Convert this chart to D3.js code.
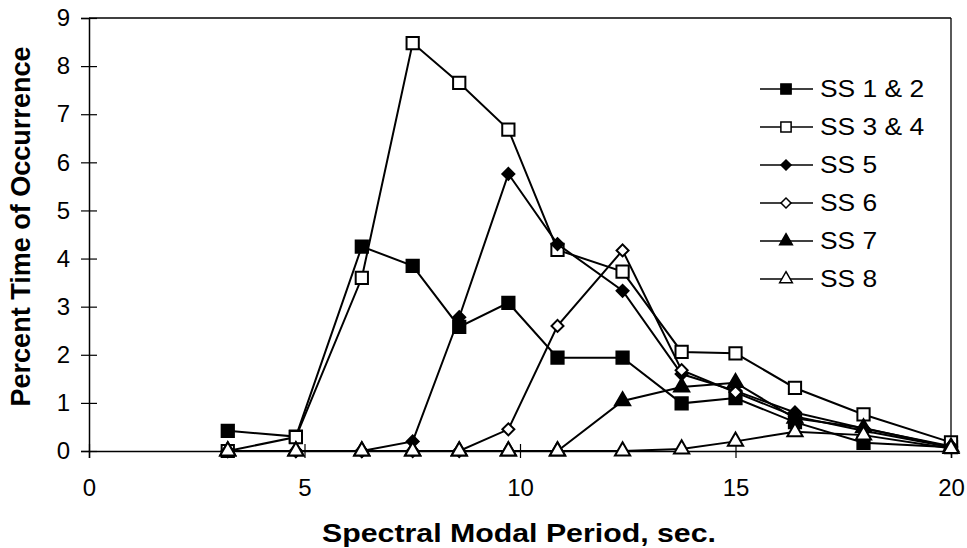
<!DOCTYPE html>
<html>
<head>
<meta charset="utf-8">
<script src="https://cdn.jsdelivr.net/npm/d3@7"></script>
<style>
  html, body { margin: 0; padding: 0; background: #fff; }
  svg { display: block; font-family: "Liberation Sans", Arial, sans-serif; }
</style>
</head>
<body>
<svg id="chart" width="967" height="548"></svg>
<script>
// ---- data ----
const periods = [3.22, 4.8, 6.33, 7.51, 8.59, 9.73, 10.87, 12.38, 13.75, 15.0, 16.38, 17.97, 20.0];
const seriesNames = ["SS 1 & 2", "SS 3 & 4", "SS 5", "SS 6", "SS 7", "SS 8"];
const ss12 = [0.42, 0.3, 4.25, 3.85, 2.58, 3.08, 1.94, 1.94, 0.99, 1.1, 0.6, 0.17, 0.08];
const ss34 = [0, 0.29, 3.6, 8.48, 7.65, 6.68, 4.18, 3.73, 2.06, 2.03, 1.31, 0.76, 0.18];
const ss5  = [0, 0, 0, 0.2, 2.78, 5.76, 4.3, 3.33, 1.6, 1.25, 0.8, 0.47, 0.1];
const ss6  = [0, 0, 0, 0, 0, 0.45, 2.6, 4.17, 1.68, 1.22, 0.72, 0.42, 0.08];
const ss7  = [0, 0, 0, 0, 0, 0, 0, 1.04, 1.33, 1.42, 0.68, 0.48, 0.08];
const ss8  = [0, 0, 0, 0, 0, 0, 0, 0, 0.04, 0.2, 0.4, 0.33, 0.05];
const xTicks = [0, 5, 10, 15, 20];
const yTicks = [0, 1, 2, 3, 4, 5, 6, 7, 8, 9];
const xTitle = "Spectral Modal Period, sec.";
const yTitle = "Percent Time of Occurrence";

const seriesValues = [ss12, ss34, ss5, ss6, ss7, ss8];
const markerDefs = [
  { shape: d3.symbolSquare, fill: "#000", size: 150, rot: 0 },
  { shape: d3.symbolSquare, fill: "#fff", size: 150, rot: 0 },
  { shape: d3.symbolSquare, fill: "#000", size: 72, rot: 45 },
  { shape: d3.symbolSquare, fill: "#fff", size: 72, rot: 45 },
  { shape: d3.symbolTriangle, fill: "#000", size: 100, rot: 0 },
  { shape: d3.symbolTriangle, fill: "#fff", size: 100, rot: 0 }
];

// ---- layout ----
const svg = d3.select("#chart");
const pLeft = 89, pRight = 951, pTop = 18, pBottom = 451;
const x = d3.scaleLinear().domain([0, 20]).range([pLeft, pRight]);
const y = d3.scaleLinear().domain([0, 9]).range([pBottom, pTop]);

// plot frame (top and right)
svg.append("line").attr("x1", pLeft).attr("x2", pRight).attr("y1", pTop).attr("y2", pTop)
  .attr("stroke", "#000").attr("stroke-width", 1.3);
svg.append("line").attr("x1", pRight).attr("x2", pRight).attr("y1", pTop).attr("y2", pBottom)
  .attr("stroke", "#000").attr("stroke-width", 1.3);

// axes
const yAxis = svg.append("g").attr("transform", `translate(${pLeft},0)`)
  .call(d3.axisLeft(y).tickValues(yTicks).tickSize(8).tickPadding(12).tickFormat(d3.format("d")));
yAxis.selectAll(".tick line").attr("x1", -8).attr("x2", 8);
yAxis.selectAll(".tick text").attr("x", -19).attr("font-size", 24).attr("fill", "#000")
  .attr("font-family", '"Liberation Sans", Arial, sans-serif');

const xAxis = svg.append("g").attr("transform", `translate(0,${pBottom})`)
  .call(d3.axisBottom(x).tickValues(xTicks).tickSize(7).tickPadding(21).tickFormat(d3.format("d")));
xAxis.selectAll(".tick line").attr("y1", -7).attr("y2", 7);
xAxis.selectAll(".tick text").attr("font-size", 24).attr("fill", "#000")
  .attr("font-family", '"Liberation Sans", Arial, sans-serif');
svg.selectAll(".domain").attr("stroke", "#000").attr("stroke-width", 1.5);
svg.selectAll(".tick line").attr("stroke", "#000").attr("stroke-width", 1.2);

// axis titles
svg.append("text").attr("x", (pLeft + pRight) / 2 - 1).attr("y", 542)
  .attr("text-anchor", "middle").attr("font-weight", "bold").attr("font-size", 25)
  .attr("textLength", 394).attr("lengthAdjust", "spacingAndGlyphs")
  .text(xTitle);
svg.append("text").attr("transform", `translate(30,${(pTop + pBottom) / 2 - 8}) rotate(-90)`)
  .attr("text-anchor", "middle").attr("font-weight", "bold").attr("font-size", 27)
  .attr("textLength", 360).attr("lengthAdjust", "spacingAndGlyphs")
  .text(yTitle);

// series
const line = d3.line().x((d, i) => x(periods[i])).y(d => y(d));
seriesValues.forEach((vals, s) => {
  const g = svg.append("g");
  g.append("path").datum(vals).attr("d", line)
    .attr("fill", "none").attr("stroke", "#000").attr("stroke-width", 2);
  const m = markerDefs[s];
  g.selectAll("path.m").data(vals).enter().append("path").attr("class", "m")
    .attr("d", d3.symbol().type(m.shape).size(m.size))
    .attr("transform", (d, i) => `translate(${x(periods[i])},${y(d)}) rotate(${m.rot})`)
    .attr("fill", m.fill).attr("stroke", "#000").attr("stroke-width", 2);
});

// legend
const leg = svg.append("g");
seriesNames.forEach((name, i) => {
  const cy = 89 + i * 38;
  const m = markerDefs[i];
  leg.append("line").attr("x1", 760).attr("x2", 813).attr("y1", cy).attr("y2", cy)
    .attr("stroke", "#000").attr("stroke-width", 1.5);
  leg.append("path").attr("d", d3.symbol().type(m.shape).size(m.size * 0.7))
    .attr("transform", `translate(786,${cy}) rotate(${m.rot})`)
    .attr("fill", m.fill).attr("stroke", "#000").attr("stroke-width", 1.5);
  leg.append("text").attr("x", 820).attr("y", cy + 8.5)
    .attr("font-size", 24).attr("transform", `translate(820,0) scale(1.1,1) translate(-820,0)`)
    .text(name);
});
</script>
</body>
</html>
